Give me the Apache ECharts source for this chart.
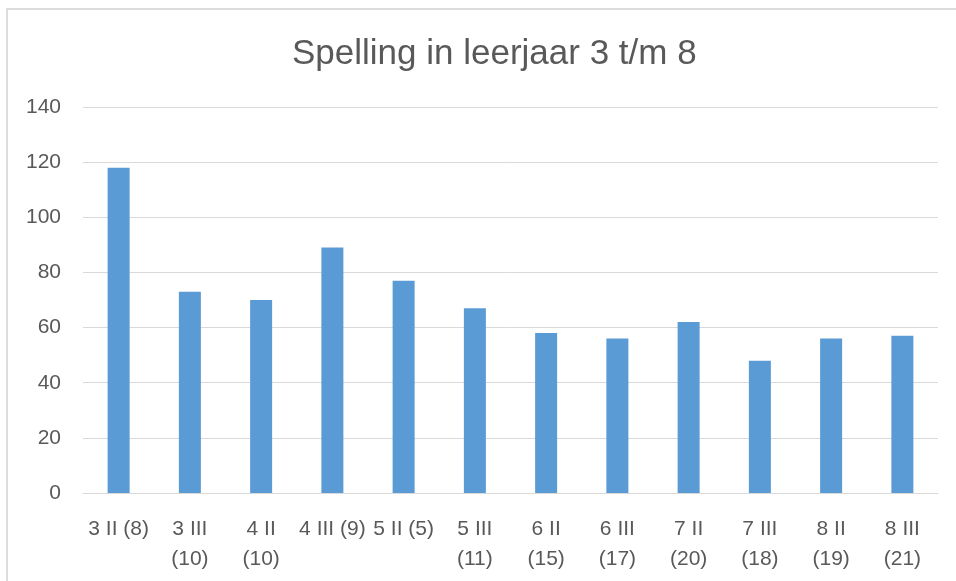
<!DOCTYPE html>
<html>
<head>
<meta charset="utf-8">
<script src="https://cdn.jsdelivr.net/npm/echarts@6/dist/echarts.min.js"></script>
<style>
  html, body { margin: 0; padding: 0; background: #fff; }
  #chart { width: 956px; height: 581px; }
</style>
</head>
<body>
<div id="chart"></div>
<script>
// groepen (aantal leerlingen)
var categories = [
  '3 II (8)', '3 III\n(10)', '4 II\n(10)', '4 III (9)', '5 II (5)', '5 III\n(11)',
  '6 II\n(15)', '6 III\n(17)', '7 II\n(20)', '7 III\n(18)', '8 II\n(19)', '8 III\n(21)'
];
var scores = [118, 73, 70, 89, 77, 67, 58, 56, 62, 48, 56, 57];
var yTicks = { min: 0, max: 140, interval: 20 };

var FONT = '"Liberation Sans", Arial, sans-serif';
var TEXT = '#595959';
var LINE = '#d9d9d9';

var chart = echarts.init(document.getElementById('chart'), null, { renderer: 'canvas' });

chart.setOption({
  animation: false,
  backgroundColor: '#ffffff',
  title: {
    text: 'Spelling in leerjaar 3 t/m 8',
    left: 287,
    top: 32,
    textStyle: { fontFamily: FONT, fontSize: 35, fontWeight: 'normal', color: TEXT }
  },
  graphic: [{
    type: 'rect',
    shape: { x: 7, y: 9, width: 1200, height: 1200 },
    style: { fill: 'none', stroke: '#dcdcdc', lineWidth: 2 },
    silent: true
  }],
  grid: { left: 83, right: 18, top: 107, bottom: 88, containLabel: false },
  xAxis: {
    type: 'category',
    data: categories,
    axisLine: { lineStyle: { color: LINE, width: 1 } },
    axisTick: { show: false },
    axisLabel: {
      interval: 0,
      margin: 21,
      fontFamily: FONT,
      fontSize: 21,
      lineHeight: 30,
      color: TEXT
    }
  },
  yAxis: {
    type: 'value',
    min: yTicks.min,
    max: yTicks.max,
    interval: yTicks.interval,
    axisLine: { show: false },
    axisTick: { show: false },
    splitLine: { lineStyle: { color: LINE, width: 1 } },
    axisLabel: { margin: 22, fontFamily: FONT, fontSize: 21, color: TEXT }
  },
  series: [{
    type: 'bar',
    data: scores,
    barWidth: 22,
    itemStyle: { color: '#5b9bd5' }
  }]
});
</script>
</body>
</html>
